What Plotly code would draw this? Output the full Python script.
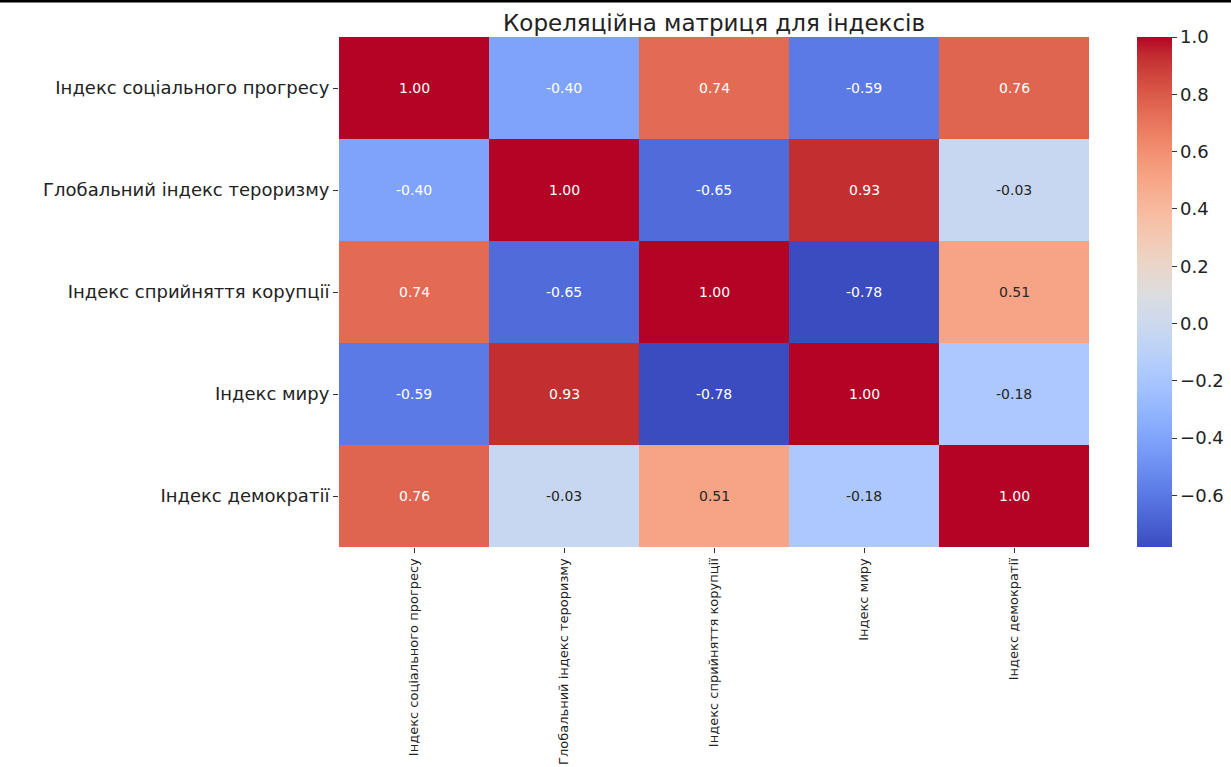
import plotly.graph_objects as go

labels = ["Індекс соціального прогресу", "Глобальний індекс тероризму",
          "Індекс сприйняття корупції", "Індекс миру", "Індекс демократії"]
corr = [
    [1.00, -0.40, 0.74, -0.59, 0.76],
    [-0.40, 1.00, -0.65, 0.93, -0.03],
    [0.74, -0.65, 1.00, -0.78, 0.51],
    [-0.59, 0.93, -0.78, 1.00, -0.18],
    [0.76, -0.03, 0.51, -0.18, 1.00],
]
title = "Кореляційна матриця для індексів"
cbar_ticks = [-0.6, -0.4, -0.2, 0.0, 0.2, 0.4, 0.6, 0.8, 1.0]

cw = [(59,76,192),(68,90,204),(77,104,215),(87,117,225),(98,130,234),(108,142,241),
      (119,154,247),(130,165,251),(141,176,254),(152,185,255),(163,194,255),(174,201,253),
      (184,208,249),(194,213,244),(204,217,238),(213,219,230),(221,221,221),(229,216,209),
      (236,211,197),(241,204,184),(245,196,173),(247,187,160),(247,177,148),(247,166,135),
      (244,154,123),(241,141,111),(236,127,99),(229,112,88),(222,96,77),(213,80,66),
      (203,62,56),(192,40,47),(180,4,38)]
n = len(cw) - 1
colorscale = [[i / n, "rgb(%d,%d,%d)" % c] for i, c in enumerate(cw)]

zmin = min(min(r) for r in corr)
zmax = max(max(r) for r in corr)

def color_at(v):
    t = (v - zmin) / (zmax - zmin)
    t = max(0, min(1, t)) * n
    i = min(int(t), n - 1)
    f = t - i
    return [cw[i][k] + (cw[i + 1][k] - cw[i][k]) * f for k in range(3)]

def lum(rgb):
    out = []
    for c in rgb:
        c = c / 255
        out.append(c / 12.92 if c <= 0.03928 else ((c + 0.055) / 1.055) ** 2.4)
    return 0.2126 * out[0] + 0.7152 * out[1] + 0.0722 * out[2]

fig = go.Figure(go.Heatmap(
    z=corr, x=labels, y=labels, colorscale=colorscale, zmin=zmin, zmax=zmax,
    xgap=0, ygap=0, hoverinfo="skip",
    colorbar=dict(thickness=35, len=1, lenmode="fraction", y=0.5, yanchor="middle",
                  x=1.064, xanchor="left", outlinewidth=0, xpad=0, ypad=0,
                  tickvals=cbar_ticks, ticktext=[("−" if t < 0 else "") + "%.1f" % abs(t) for t in cbar_ticks],
                  ticks="outside", ticklen=5, tickcolor="#333",
                  tickfont=dict(family="DejaVu Sans", size=18, color="#222")),
))

for i, row in enumerate(corr):
    for j, v in enumerate(row):
        col = "white" if lum(color_at(v)) < 0.408 else "#262626"
        fig.add_annotation(x=labels[j], y=labels[i], text="%.2f" % v, showarrow=False,
                           font=dict(family="DejaVu Sans", size=14, color=col))

fig.add_shape(type="line", xref="paper", yref="paper", x0=-0.46, x1=1.2, y0=1.0706, y1=1.0706,
              line=dict(color="black", width=3))

fig.update_layout(
    width=1231, height=767, autosize=False,
    margin=dict(l=339, r=142, t=37, b=220, autoexpand=False),
    paper_bgcolor="white", plot_bgcolor="white",
    title=dict(text=title, x=(339 + 375) / 1231, xanchor="center", y=1 - 23 / 767, yanchor="middle",
               font=dict(family="DejaVu Sans", size=23, color="#222")),
    xaxis=dict(tickangle=-90, ticks="outside", ticklen=5, tickcolor="#333", showgrid=False,
               zeroline=False, automargin=False,
               tickfont=dict(family="DejaVu Sans", size=13, color="#222")),
    yaxis=dict(autorange="reversed", ticks="outside", ticklen=5, tickcolor="#333", showgrid=False,
               zeroline=False, automargin=False,
               tickfont=dict(family="DejaVu Sans", size=18, color="#222")),
)

fig.write_html("out.html", config={"displayModeBar": False},
               post_script="document.body.style.margin='0px';document.body.style.overflow='hidden';")
